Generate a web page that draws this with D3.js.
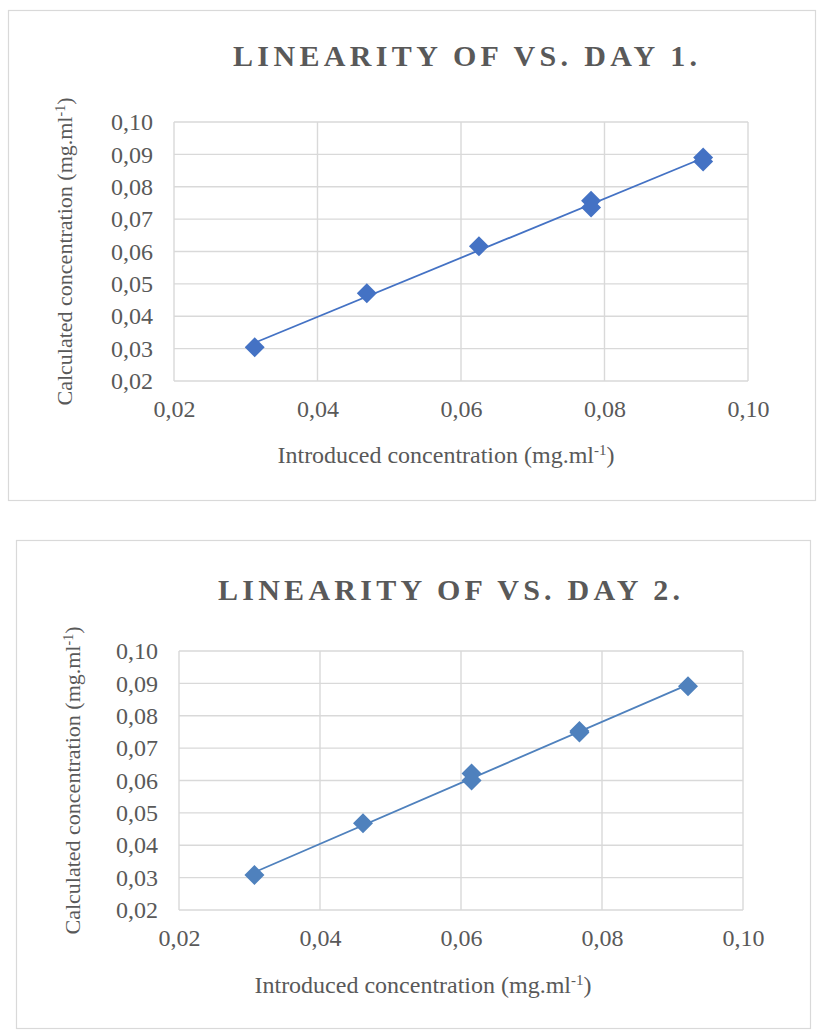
<!DOCTYPE html>
<html>
<head>
<meta charset="utf-8">
<script src="https://cdn.jsdelivr.net/npm/d3@7"></script>
<style>
  html, body { margin: 0; padding: 0; background: #fff; }
  svg { display: block; }
</style>
</head>
<body>
<svg id="chart" width="818" height="1030"></svg>
<script>
// ---- Data ----
const titles = ["LINEARITY OF VS. DAY 1.", "LINEARITY OF VS. DAY 2."];
const xAxisTitle = "Introduced concentration (mg.ml";
const yAxisTitle = "Calculated concentration (mg.ml";
const axisTicks = [0.02, 0.03, 0.04, 0.05, 0.06, 0.07, 0.08, 0.09, 0.10];
const xTicks = [0.02, 0.04, 0.06, 0.08, 0.10];

const day1Introduced = [0.03125, 0.046875, 0.0625, 0.078125, 0.078125, 0.09375, 0.09375];
const day1Calculated = [0.0304, 0.0471, 0.0616, 0.0757, 0.0736, 0.0890, 0.0878];

const day2Introduced = [0.0307, 0.0461, 0.0615, 0.0615, 0.0768, 0.0768, 0.0922];
const day2Calculated = [0.0308, 0.0468, 0.0622, 0.0600, 0.0753, 0.0748, 0.0891];

// ---- Layout configs (positions only) ----
const charts = [
  { box: [8, 10, 807, 490], plot: [174, 122, 748, 381], color: "#4472C4",
    titleX: 465, titleY: 66, titleW: 464, yTitleX: 72, xTitleX: 446, xTitleY: 463,
    xs: day1Introduced, ys: day1Calculated, title: titles[0] },
  { box: [16, 540, 794, 488], plot: [179, 651, 743, 910], color: "#4F81BD",
    titleX: 449, titleY: 600, titleW: 462, yTitleX: 80, xTitleX: 423, xTitleY: 993,
    xs: day2Introduced, ys: day2Calculated, title: titles[1] }
];

const svg = d3.select("#chart");
const textColor = "#595959";
const gridColor = "#d9d9d9";
const fmt = v => d3.format(".2f")(v).replace(".", ",");

function addSuperTitle(sel, base, supSize) {
  sel.append("tspan").text(base);
  sel.append("tspan").attr("baseline-shift", "super").attr("font-size", supSize).text("-1");
  sel.append("tspan").text(")");
}

charts.forEach(c => {
  const g = svg.append("g");
  g.append("rect")
    .attr("x", c.box[0] + 0.5).attr("y", c.box[1] + 0.5)
    .attr("width", c.box[2]).attr("height", c.box[3])
    .attr("fill", "#fff").attr("stroke", gridColor).attr("stroke-width", 1.2);

  const x = d3.scaleLinear().domain([0.02, 0.10]).range([c.plot[0], c.plot[2]]);
  const y = d3.scaleLinear().domain([0.02, 0.10]).range([c.plot[3], c.plot[1]]);

  g.append("g").selectAll("line").data(axisTicks).join("line")
    .attr("x1", x(0.02)).attr("x2", x(0.10))
    .attr("y1", d => y(d)).attr("y2", d => y(d))
    .attr("stroke", gridColor).attr("stroke-width", 1.4);
  g.append("g").selectAll("line").data(xTicks).join("line")
    .attr("y1", y(0.02)).attr("y2", y(0.10))
    .attr("x1", d => x(d)).attr("x2", d => x(d))
    .attr("stroke", gridColor).attr("stroke-width", 1.4);

  const yAxis = d3.axisLeft(y).tickValues(axisTicks).tickFormat(fmt).tickSize(0).tickPadding(21);
  const xAxis = d3.axisBottom(x).tickValues(xTicks).tickFormat(fmt).tickSize(0).tickPadding(19);
  const ya = g.append("g").attr("transform", `translate(${c.plot[0]},0)`).call(yAxis);
  const xa = g.append("g").attr("transform", `translate(0,${c.plot[3]})`).call(xAxis);
  [ya, xa].forEach(a => {
    a.select(".domain").remove();
    a.selectAll("text").attr("font-family", "'Liberation Serif', 'Times New Roman', serif")
      .attr("font-size", "24px").attr("fill", textColor);
  });

  g.append("text")
    .attr("x", c.titleX).attr("y", c.titleY)
    .attr("text-anchor", "middle")
    .attr("font-family", "'Liberation Serif', 'Times New Roman', serif")
    .attr("font-weight", "bold").attr("font-size", "30px")
    .attr("fill", textColor)
    .attr("textLength", c.titleW).attr("lengthAdjust", "spacing")
    .text(c.title);

  const xt = g.append("text")
    .attr("x", c.xTitleX).attr("y", c.xTitleY)
    .attr("text-anchor", "middle")
    .attr("font-family", "'Liberation Serif', 'Times New Roman', serif")
    .attr("font-size", "24px").attr("fill", textColor);
  addSuperTitle(xt, xAxisTitle, "15px");

  const yc = (c.plot[1] + c.plot[3]) / 2;
  const yt = g.append("text")
    .attr("transform", `translate(${c.yTitleX},${yc}) rotate(-90)`)
    .attr("text-anchor", "middle")
    .attr("font-family", "'Liberation Serif', 'Times New Roman', serif")
    .attr("font-size", "22px").attr("fill", textColor);
  addSuperTitle(yt, yAxisTitle, "14px");

  const pts = c.xs.map((v, i) => [v, c.ys[i]]);
  const mx = d3.mean(c.xs), my = d3.mean(c.ys);
  const slope = d3.sum(pts, p => (p[0] - mx) * (p[1] - my)) / d3.sum(pts, p => (p[0] - mx) ** 2);
  const icpt = my - slope * mx;
  const [x0, x1] = d3.extent(c.xs);
  const line = d3.line().x(d => x(d[0])).y(d => y(d[1]));
  g.append("path")
    .datum([[x0, icpt + slope * x0], [x1, icpt + slope * x1]])
    .attr("d", line).attr("fill", "none")
    .attr("stroke", c.color).attr("stroke-width", 1.8);

  const sym = d3.symbol(d3.symbolSquare, 200);
  g.append("g").selectAll("path").data(pts).join("path")
    .attr("d", sym)
    .attr("transform", d => `translate(${x(d[0])},${y(d[1])}) rotate(45)`)
    .attr("fill", c.color);
});
</script>
</body>
</html>
